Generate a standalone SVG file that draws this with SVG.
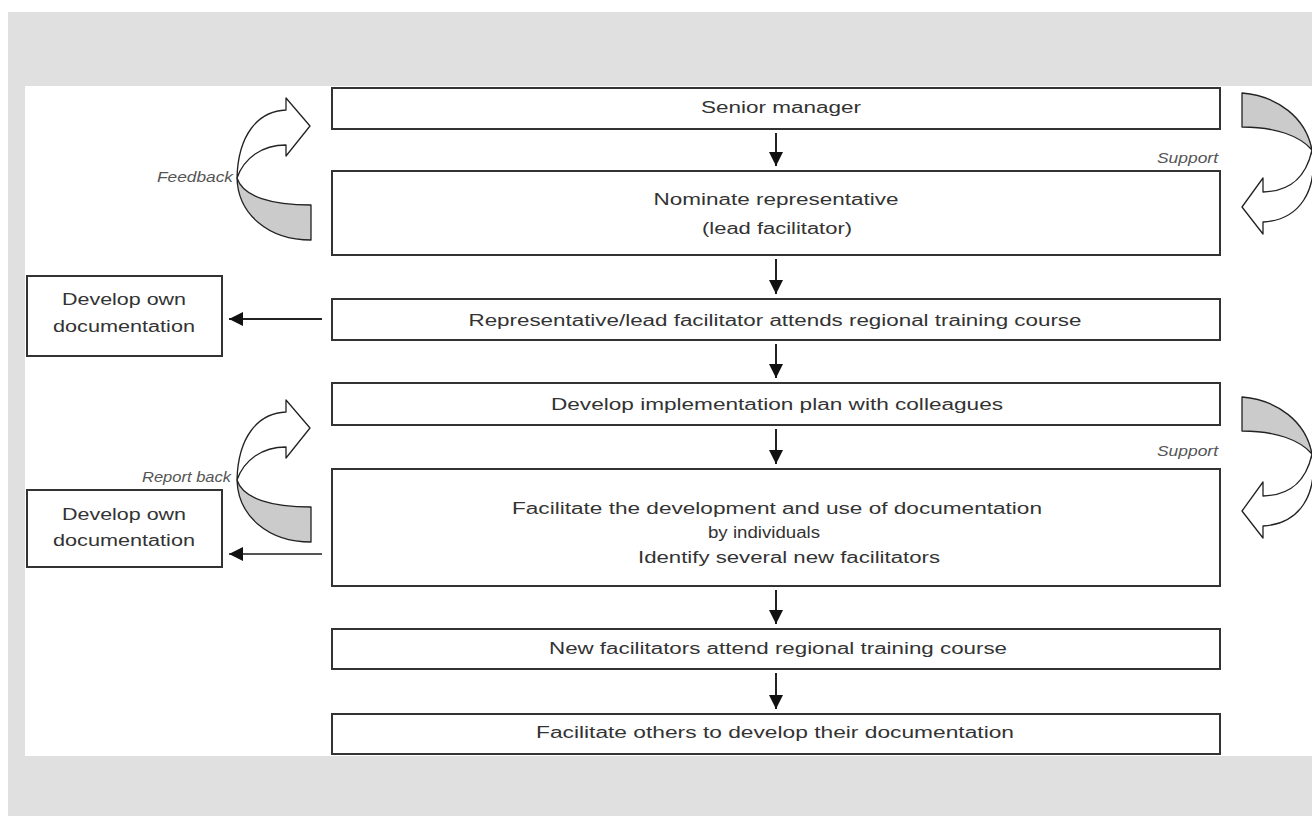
<svg xmlns="http://www.w3.org/2000/svg" width="1312" height="816" viewBox="0 0 1312 816">
<defs>
<style>
.box{fill:#fff;stroke:#333;stroke-width:2}
.t{font-family:"Liberation Sans",Arial,sans-serif;font-size:16px;fill:#333;text-anchor:middle}
.lbl{font-family:"Liberation Sans",Arial,sans-serif;font-size:14px;font-style:italic;fill:#555}
.con{stroke:#222;stroke-width:2;fill:none;marker-end:url(#ah)}
.cw{fill:#fff;stroke:#222;stroke-width:1.3;stroke-linejoin:round}
.cg{fill:#cbcbcb;stroke:#222;stroke-width:1.3;stroke-linejoin:round}
</style>
<marker id="ah" viewBox="0 0 14 14" refX="14" refY="7" markerWidth="14" markerHeight="14" markerUnits="userSpaceOnUse" orient="auto">
<path d="M0,0 L14,7 L0,14 Z" fill="#111"/>
</marker>
<g id="fbArrow">
<path class="cw" d="M237,178 C238,135 258,111 286,110 L286,98 L310,126 L286,156 L286,145 C262,145 244,158 237,178 Z"/>
<path class="cg" d="M237,178 C238,214 268,240 311,240 L311,205 C272,205 243,197 237,178 Z"/>
</g>
<g id="spArrow">
<path class="cg" d="M1242,93 C1278,96 1306,118 1312,150 C1300,136 1276,127 1242,127 Z"/>
<path class="cw" d="M1312,150 C1306,178 1290,191 1263,192 L1263,178 L1242,207 L1263,234 L1263,222 C1300,220 1318,190 1312,150 Z"/>
</g>
</defs>
<rect x="0" y="0" width="1312" height="816" fill="#fff"/>
<rect x="8" y="12" width="1304" height="804" fill="#e0e0e0"/>
<rect x="25" y="86" width="1287" height="670" fill="#fff"/>

<g id="connectors">
<line class="con" x1="776" y1="133" x2="776" y2="166"/>
<line class="con" x1="776" y1="259" x2="776" y2="294"/>
<line class="con" x1="776" y1="344" x2="776" y2="378"/>
<line class="con" x1="776" y1="429" x2="776" y2="464"/>
<line class="con" x1="776" y1="590" x2="776" y2="624"/>
<line class="con" x1="776" y1="673" x2="776" y2="709"/>
<line class="con" x1="322" y1="319" x2="229" y2="319"/>
<line class="con" x1="322" y1="554" x2="229" y2="554" style="stroke:#555"/>
</g>

<g id="feedback">
<use href="#fbArrow"/>
<text class="lbl" x="157" y="182" textLength="76" lengthAdjust="spacingAndGlyphs">Feedback</text>
</g>
<g id="reportback">
<use href="#fbArrow" transform="translate(0,302)"/>
<text class="lbl" x="142" y="482" textLength="89" lengthAdjust="spacingAndGlyphs">Report back</text>
</g>
<g id="support1">
<use href="#spArrow"/>
<text class="lbl" x="1157" y="163" textLength="61" lengthAdjust="spacingAndGlyphs">Support</text>
</g>
<g id="support2">
<use href="#spArrow" transform="translate(0,304)"/>
<text class="lbl" x="1157" y="456" textLength="61" lengthAdjust="spacingAndGlyphs">Support</text>
</g>

<g id="n1">
<rect class="box" x="332" y="88" width="888" height="41"/>
<text class="t" x="781" y="113" textLength="160" lengthAdjust="spacingAndGlyphs">Senior manager</text>
</g>
<g id="n2">
<rect class="box" x="332" y="171" width="888" height="84"/>
<text class="t" x="776" y="205" textLength="245" lengthAdjust="spacingAndGlyphs">Nominate representative</text>
<text class="t" x="777" y="234" textLength="150" lengthAdjust="spacingAndGlyphs">(lead facilitator)</text>
</g>
<g id="n3">
<rect class="box" x="332" y="299" width="888" height="41"/>
<text class="t" x="775" y="326" textLength="613" lengthAdjust="spacingAndGlyphs">Representative/lead facilitator attends regional training course</text>
</g>
<g id="n4">
<rect class="box" x="332" y="383" width="888" height="42"/>
<text class="t" x="777" y="410" textLength="452" lengthAdjust="spacingAndGlyphs">Develop implementation plan with colleagues</text>
</g>
<g id="n5">
<rect class="box" x="332" y="469" width="888" height="117"/>
<text class="t" x="777" y="514" textLength="530" lengthAdjust="spacingAndGlyphs">Facilitate the development and use of documentation</text>
<text class="t" x="764" y="538" textLength="112" lengthAdjust="spacingAndGlyphs">by individuals</text>
<text class="t" x="789" y="563" textLength="302" lengthAdjust="spacingAndGlyphs">Identify several new facilitators</text>
</g>
<g id="n6">
<rect class="box" x="332" y="629" width="888" height="40"/>
<text class="t" x="778" y="654" textLength="458" lengthAdjust="spacingAndGlyphs">New facilitators attend regional training course</text>
</g>
<g id="n7">
<rect class="box" x="332" y="714" width="888" height="40"/>
<text class="t" x="775" y="738" textLength="478" lengthAdjust="spacingAndGlyphs">Facilitate others to develop their documentation</text>
</g>
<g id="l1">
<rect class="box" x="27" y="276" width="195" height="80"/>
<text class="t" x="124" y="305" textLength="124" lengthAdjust="spacingAndGlyphs">Develop own</text>
<text class="t" x="124" y="332" textLength="142" lengthAdjust="spacingAndGlyphs">documentation</text>
</g>
<g id="l2">
<rect class="box" x="27" y="490" width="195" height="77"/>
<text class="t" x="124" y="520" textLength="124" lengthAdjust="spacingAndGlyphs">Develop own</text>
<text class="t" x="124" y="546" textLength="142" lengthAdjust="spacingAndGlyphs">documentation</text>
</g>
</svg>
